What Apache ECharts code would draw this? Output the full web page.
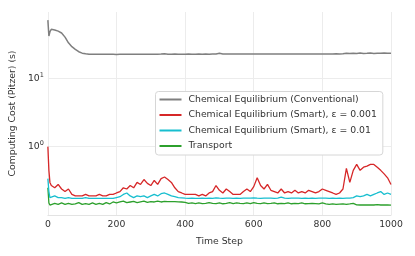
<!DOCTYPE html>
<html><head><meta charset="utf-8">
<script src="https://cdn.jsdelivr.net/npm/echarts@6/dist/echarts.min.js"></script>
<style>html,body{margin:0;padding:0;background:#fff}#c{width:415px;height:256px}</style>
</head><body><div id="c"></div>
<script>
const steps = [0,3,6,10,20,30,40,50,60,70,80,90,100,110,120,130,140,150,160,170,180,190,200,210,220,230,240,250,260,270,280,290,300,310,320,330,340,350,360,370,380,390,400,410,420,430,440,450,460,470,480,490,500,510,520,530,540,550,560,570,580,590,600,610,620,630,640,650,660,670,680,690,700,710,720,730,740,750,760,770,780,790,800,810,820,830,840,850,860,870,880,890,900,910,920,930,940,950,960,970,980,990,1000];
const conventional = [71,41.5,48,52,51,49,46,40,33,29,26.5,24.5,23.3,22.8,22.5,22.4,22.4,22.5,22.4,22.4,22.5,22.4,22.3,22.4,22.5,22.4,22.4,22.5,22.4,22.5,22.4,22.5,22.4,22.5,22.5,22.6,22.8,22.5,22.5,22.6,22.5,22.5,22.5,22.6,22.5,22.5,22.6,22.5,22.6,22.5,22.6,22.7,23.2,22.7,22.6,22.6,22.7,22.6,22.6,22.7,22.6,22.7,22.6,22.7,22.6,22.7,22.7,22.6,22.7,22.7,22.6,22.7,22.7,22.6,22.7,22.7,22.7,22.6,22.7,22.7,22.7,22.7,22.7,22.7,22.7,22.7,22.8,22.7,22.8,23.3,23.0,23.3,23.1,23.4,23.1,23.2,23.4,23.1,23.3,23.2,23.4,23.2,23.3];
const smart001 = [1.0,0.45,0.3,0.27,0.25,0.28,0.24,0.22,0.24,0.2,0.19,0.19,0.19,0.2,0.19,0.19,0.19,0.2,0.19,0.19,0.2,0.2,0.21,0.22,0.25,0.24,0.27,0.25,0.3,0.28,0.33,0.29,0.27,0.32,0.28,0.34,0.36,0.33,0.3,0.25,0.22,0.21,0.2,0.2,0.2,0.2,0.19,0.2,0.19,0.21,0.22,0.27,0.23,0.21,0.24,0.22,0.2,0.2,0.2,0.22,0.24,0.22,0.26,0.35,0.27,0.24,0.28,0.23,0.22,0.21,0.24,0.21,0.22,0.21,0.23,0.21,0.22,0.21,0.23,0.22,0.21,0.22,0.24,0.23,0.22,0.21,0.2,0.21,0.24,0.48,0.3,0.45,0.55,0.45,0.5,0.52,0.55,0.55,0.5,0.45,0.4,0.35,0.28];
const smart01 = [0.34,0.22,0.18,0.18,0.19,0.18,0.18,0.175,0.18,0.175,0.175,0.175,0.175,0.18,0.175,0.175,0.175,0.175,0.175,0.175,0.175,0.175,0.18,0.185,0.2,0.21,0.19,0.18,0.19,0.185,0.19,0.18,0.19,0.2,0.19,0.205,0.21,0.2,0.19,0.185,0.18,0.178,0.176,0.175,0.176,0.175,0.175,0.176,0.175,0.176,0.175,0.178,0.176,0.175,0.176,0.177,0.175,0.176,0.175,0.176,0.177,0.176,0.178,0.176,0.175,0.176,0.177,0.176,0.175,0.176,0.182,0.176,0.175,0.176,0.177,0.176,0.175,0.176,0.175,0.176,0.175,0.176,0.177,0.176,0.175,0.176,0.175,0.176,0.175,0.176,0.177,0.18,0.19,0.185,0.19,0.2,0.19,0.2,0.21,0.22,0.2,0.21,0.2];
const transport = [0.25,0.15,0.14,0.145,0.148,0.143,0.15,0.143,0.148,0.143,0.145,0.152,0.143,0.147,0.143,0.15,0.143,0.148,0.143,0.152,0.145,0.155,0.15,0.155,0.16,0.152,0.155,0.158,0.152,0.156,0.16,0.153,0.157,0.155,0.16,0.155,0.158,0.157,0.157,0.157,0.156,0.155,0.153,0.148,0.15,0.147,0.15,0.147,0.148,0.152,0.148,0.147,0.15,0.146,0.148,0.152,0.147,0.15,0.148,0.147,0.15,0.147,0.152,0.148,0.147,0.15,0.147,0.148,0.15,0.146,0.148,0.147,0.15,0.146,0.148,0.147,0.15,0.146,0.147,0.148,0.147,0.145,0.15,0.146,0.143,0.145,0.143,0.144,0.145,0.143,0.145,0.148,0.141,0.14,0.14,0.141,0.14,0.14,0.142,0.14,0.14,0.14,0.139];
const seriesNames = ['Chemical Equilibrium (Conventional)','Chemical Equilibrium (Smart), \u03b5 = 0.001','Chemical Equilibrium (Smart), \u03b5 = 0.01','Transport'];
const colors = ['#7f7f7f','#d62728','#17becf','#2ca02c'];
const yLabelPowers = [0,1];

const FONT = 'DejaVu Sans';
const FS = 9.3;
const pair = arr => steps.map((s,i)=>[s,arr[i]]);
const allData = [conventional, smart001, smart01, transport];
const chart = echarts.init(document.getElementById('c'), null, {renderer:'canvas'});
chart.setOption({
  animation:false,
  textStyle:{fontFamily:FONT},
  grid:{left:47.7,right:24,top:12,bottom:41,containLabel:false},
  legend:{
    orient:'vertical', left:155.5, top:91.5,
    data:seriesNames,
    icon:'rect', itemWidth:22, itemHeight:2, itemGap:3.5,
    padding:[2,6,3,4],
    backgroundColor:'#fff', borderColor:'#d6d6d6', borderWidth:1, borderRadius:3,
    textStyle:{fontFamily:FONT, fontSize:FS, color:'#333', lineHeight:12, padding:[0,0,0,2]}
  },
  xAxis:{
    type:'value', min:0, max:1000, interval:200,
    name:'Time Step', nameLocation:'middle', nameGap:22,
    nameTextStyle:{fontFamily:FONT, fontSize:FS, color:'#333'},
    axisLine:{show:true, lineStyle:{color:'#e3e3e3', width:1}},
    axisTick:{show:false},
    axisLabel:{fontFamily:FONT, fontSize:FS, color:'#333', margin:5, formatter:v=>String(v)},
    splitLine:{show:true, lineStyle:{color:'#ececec', width:1}}
  },
  yAxis:{
    type:'log', logBase:10, min:0.1, max:93.3,
    name:'Computing Cost (Pitzer) (s)', nameLocation:'middle', nameGap:24,
    nameTextStyle:{fontFamily:FONT, fontSize:FS, color:'#333'},
    axisLine:{show:false}, axisTick:{show:false},
    axisLabel:{
      showMinLabel:false, showMaxLabel:false, margin:4,
      formatter:function(v){
        const l = Math.log10(v); const r = Math.round(l);
        if (Math.abs(l-r) > 1e-6 || yLabelPowers.indexOf(r) < 0) return '';
        return '{b|10}{s|' + r + '}';
      },
      rich:{
        b:{fontFamily:FONT, fontSize:FS, color:'#333'},
        s:{fontFamily:FONT, fontSize:6.5, color:'#333', verticalAlign:'top', padding:[0,0,6,0]}
      }
    },
    splitLine:{show:true, showMinLine:false, showMaxLine:false, lineStyle:{color:'#ececec', width:1}}
  },
  series: allData.map((d,i)=>({
    name:seriesNames[i], type:'line', data:pair(d), showSymbol:false, symbol:'none',
    lineStyle:{color:colors[i], width: i===0?1.5:1.3}, itemStyle:{color:colors[i]}, z: 10-i
  }))
});
</script></body></html>
